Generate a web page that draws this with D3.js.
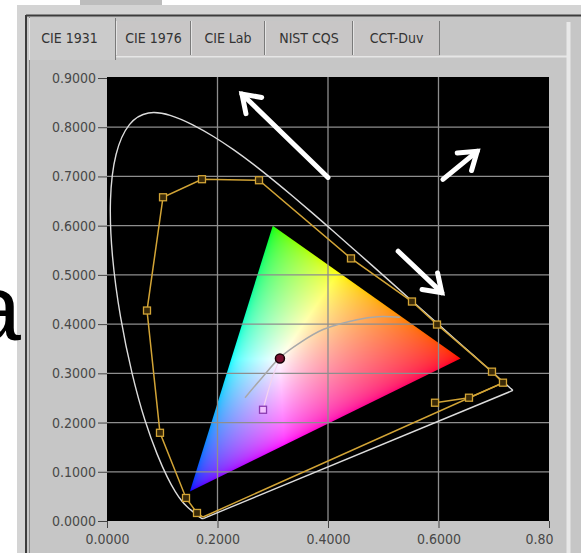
<!DOCTYPE html>
<html>
<head>
<meta charset="utf-8">
<script src="https://cdn.jsdelivr.net/npm/d3@7"></script>
<style>
  body { margin: 0; background: #fff; }
  svg { display: block; }
</style>
</head>
<body>
<svg id="chart" width="581" height="553"></svg>
<script>
// tabs + axis ticks
const tabNames = ["CIE 1931", "CIE 1976", "CIE Lab", "NIST CQS", "CCT-Duv"];
const xTicks = [0, 0.2, 0.4, 0.6, 0.8];
const xTickLabels = ["0.0000", "0.2000", "0.4000", "0.6000", "0.80"];
const yTicks = [0, 0.1, 0.2, 0.3, 0.4, 0.5, 0.6, 0.7, 0.8, 0.9];
const yTickLabels = ["0.0000", "0.1000", "0.2000", "0.3000", "0.4000", "0.5000", "0.6000", "0.7000", "0.8000", "0.9000"];

// CIE 1931 spectral locus (380..700 nm)
const locusX = [0.1741, 0.1738, 0.1733, 0.1726, 0.1714, 0.1689, 0.1644, 0.1566, 0.1440, 0.1355, 0.1241,
  0.1096, 0.0913, 0.0687, 0.0454, 0.0235, 0.0082, 0.0039, 0.0139, 0.0389, 0.0743, 0.1142, 0.1547,
  0.1929, 0.2296, 0.2658, 0.3016, 0.3373, 0.3731, 0.4087, 0.4441, 0.4788, 0.5125, 0.5448, 0.5752,
  0.6029, 0.6270, 0.6482, 0.6658, 0.6801, 0.6915, 0.7006, 0.7079, 0.7140, 0.7190, 0.7230, 0.7260,
  0.7300, 0.7320, 0.7347];
const locusY = [0.0050, 0.0049, 0.0048, 0.0048, 0.0051, 0.0069, 0.0109, 0.0177, 0.0297, 0.0399, 0.0578,
  0.0868, 0.1327, 0.2007, 0.2950, 0.4127, 0.5384, 0.6548, 0.7502, 0.8120, 0.8338, 0.8262, 0.8059,
  0.7816, 0.7543, 0.7243, 0.6923, 0.6589, 0.6245, 0.5896, 0.5547, 0.5202, 0.4866, 0.4544, 0.4242,
  0.3965, 0.3725, 0.3514, 0.3340, 0.3197, 0.3083, 0.2993, 0.2920, 0.2859, 0.2809, 0.2770, 0.2740,
  0.2700, 0.2680, 0.2653];

// measured gamut (orange)
const gamutX = [0.1738, 0.1629, 0.1430, 0.0959, 0.0724, 0.1014, 0.1719, 0.2751, 0.4416, 0.5520, 0.5973, 0.6968, 0.7167];
const gamutY = [0.0081, 0.0163, 0.0468, 0.1792, 0.4276, 0.6577, 0.6944, 0.6923, 0.5335, 0.4459, 0.3991, 0.3034, 0.2810];
const sideX = [0.5937, 0.6552, 0.7120];
const sideY = [0.2403, 0.2505, 0.2780];

// sRGB triangle
const srgbX = [0.64, 0.30, 0.15];
const srgbY = [0.33, 0.60, 0.06];

// blackbody curve
const planckX = [0.2498, 0.2805, 0.3130, 0.3490, 0.3910, 0.4525, 0.4900, 0.5300];
const planckY = [0.2505, 0.2912, 0.3320, 0.3620, 0.3890, 0.4090, 0.4150, 0.4140];

// test point -> reference point
const pointX = [0.3130, 0.2980, 0.2824];
const pointY = [0.3300, 0.2870, 0.2260];

// white annotation arrows, tail -> head
const arrowTail = [[0.400, 0.698], [0.608, 0.694], [0.527, 0.548]];
const arrowHead = [[0.2443, 0.8674], [0.670, 0.751], [0.606, 0.464]];

const svg = d3.select("#chart");

// ---- window frame ----
svg.append("rect").attr("x", 17).attr("y", 5).attr("width", 564).attr("height", 548).attr("fill", "#d4d4d4");
svg.append("rect").attr("x", 80).attr("y", 0).attr("width", 82).attr("height", 5).attr("fill", "#bdbdbd");
svg.append("rect").attr("x", 27).attr("y", 16).attr("width", 554).attr("height", 537).attr("fill", "#c6c6c6");
svg.append("line").attr("x1", 26).attr("x2", 581).attr("y1", 15.5).attr("y2", 15.5)
  .attr("stroke", "#3c3c3c").attr("stroke-width", 2);
svg.append("line").attr("x1", 26).attr("x2", 26).attr("y1", 15).attr("y2", 553)
  .attr("stroke", "#3c3c3c").attr("stroke-width", 2);
svg.append("line").attr("x1", 29.5).attr("x2", 29.5).attr("y1", 17).attr("y2", 553)
  .attr("stroke", "#8a8a8a").attr("stroke-width", 1);

// tabs
const tabEdges = [29, 116, 191, 265, 353, 440];
const tabs = svg.append("g");
tabs.append("line").attr("x1", 116).attr("x2", 568).attr("y1", 56.5).attr("y2", 56.5)
  .attr("stroke", "#e6e6e6").attr("stroke-width", 2);
tabNames.forEach((name, i) => {
  const x0 = tabEdges[i], x1 = tabEdges[i + 1];
  const sel = i === 0;
  tabs.append("rect").attr("x", x0).attr("y", sel ? 18 : 21).attr("width", x1 - x0)
    .attr("height", sel ? 42 : 35).attr("fill", sel ? "#cbcbcb" : "#c8c6c6");
  tabs.append("line").attr("x1", x0 + 0.5).attr("x2", x0 + 0.5).attr("y1", sel ? 18 : 21).attr("y2", sel ? 60 : 55)
    .attr("stroke", "#e4e4e4");
  tabs.append("line").attr("x1", x1 - 0.5).attr("x2", x1 - 0.5).attr("y1", sel ? 18 : 21).attr("y2", sel ? 60 : 55)
    .attr("stroke", "#7a7a7a");
  tabs.append("text").attr("x", (x0 + x1) / 2 + (sel ? -3 : 0)).attr("y", 43)
    .attr("text-anchor", "middle")
    .attr("font-family", "DejaVu Sans Condensed")
    .attr("font-size", 14).attr("fill", "#333")
    .text(name);
});
svg.append("line").attr("x1", 568.5).attr("x2", 568.5).attr("y1", 22).attr("y2", 553)
  .attr("stroke", "#e8e8e8").attr("stroke-width", 4);

// big panel letter (cut by the left edge, as in the source figure)
svg.append("text").attr("x", 21).attr("y", 340).attr("text-anchor", "end")
  .attr("font-family", "Liberation Sans").attr("font-size", 92).attr("fill", "#000")
  .text("a");

// ---- plot ----
const x = d3.scaleLinear().domain([0, 0.8]).range([107, 549]);
const y = d3.scaleLinear().domain([0, 0.9]).range([521, 78]);

svg.append("rect").attr("x", 107).attr("y", 77).attr("width", 442).attr("height", 444).attr("fill", "#000");

// colour-filled sRGB triangle
const tri = srgbX.map((v, i) => [x(v), y(srgbY[i])]);
const bx0 = Math.floor(d3.min(tri, d => d[0])), bx1 = Math.ceil(d3.max(tri, d => d[0]));
const by0 = Math.floor(d3.min(tri, d => d[1])), by1 = Math.ceil(d3.max(tri, d => d[1]));
const cw = bx1 - bx0, ch = by1 - by0;
const canvas = document.createElement("canvas");
canvas.width = cw; canvas.height = ch;
const ctx = canvas.getContext("2d");
const img = ctx.createImageData(cw, ch);
const gam = c => c <= 0.0031308 ? 12.92 * c : 1.055 * Math.pow(c, 1 / 2.4) - 0.055;
for (let j = 0; j < ch; j++) {
  for (let i = 0; i < cw; i++) {
    const cx = x.invert(bx0 + i + 0.5), cy = y.invert(by0 + j + 0.5);
    const X = cx / cy, Y = 1, Z = (1 - cx - cy) / cy;
    let r = 3.2406 * X - 1.5372 * Y - 0.4986 * Z;
    let g = -0.9689 * X + 1.8758 * Y + 0.0415 * Z;
    let b = 0.0557 * X - 0.2040 * Y + 1.0570 * Z;
    r = Math.max(r, 0); g = Math.max(g, 0); b = Math.max(b, 0);
    const m = Math.max(r, g, b) || 1;
    const k = (j * cw + i) * 4;
    img.data[k] = 255 * gam(r / m);
    img.data[k + 1] = 255 * gam(g / m);
    img.data[k + 2] = 255 * gam(b / m);
    img.data[k + 3] = 255;
  }
}
ctx.putImageData(img, 0, 0);
svg.append("clipPath").attr("id", "triClip")
  .append("polygon").attr("points", tri.map(d => d.join(",")).join(" "));
svg.append("image").attr("href", canvas.toDataURL())
  .attr("x", bx0).attr("y", by0).attr("width", cw).attr("height", ch)
  .attr("clip-path", "url(#triClip)");

// grid
const grid = svg.append("g").attr("stroke", "#8e8e8e").attr("stroke-width", 1.3);
xTicks.slice(1, -1).forEach(t => grid.append("line")
  .attr("x1", x(t)).attr("x2", x(t)).attr("y1", 77).attr("y2", 521));
yTicks.slice(1, -1).forEach(t => grid.append("line")
  .attr("x1", 107).attr("x2", 549).attr("y1", y(t)).attr("y2", y(t)));

// axes
const axisFont = "DejaVu Sans Condensed";
const yAxis = svg.append("g").attr("transform", "translate(107,0)")
  .call(d3.axisLeft(y).tickValues(yTicks).tickFormat((d, i) => yTickLabels[i]).tickSize(9).tickPadding(2));
const xAxis = svg.append("g").attr("transform", "translate(0,521)")
  .call(d3.axisBottom(x).tickValues(xTicks).tickFormat((d, i) => xTickLabels[i]).tickSize(7).tickPadding(6));
[xAxis, yAxis].forEach(a => {
  a.select(".domain").remove();
  a.selectAll("line").attr("stroke", "#444");
  a.selectAll("text").attr("font-family", axisFont).attr("font-size", 14).attr("fill", "#484848");
});
xAxis.selectAll("text").filter((d, i) => i === xTicks.length - 1)
  .attr("text-anchor", "end").attr("dx", 4);

// spectral locus (smoothed), closed by the purple line
const line = d3.line().x(d => x(d[0])).y(d => y(d[1]));
const locus = locusX.map((v, i) => [v, locusY[i]]);
svg.append("path").attr("d", d3.line().curve(d3.curveBasis).x(d => x(d[0])).y(d => y(d[1]))(locus))
  .attr("fill", "none").attr("stroke", "#dcdcdc").attr("stroke-width", 1.4);
svg.append("path").attr("d", line([locus[locus.length - 1], locus[0]]))
  .attr("fill", "none").attr("stroke", "#dcdcdc").attr("stroke-width", 1.4);

// gamut polygon
const gamut = gamutX.map((v, i) => [v, gamutY[i]]);
const orange = "#d2a436";
svg.append("path").attr("d", line(gamut.concat([gamut[0]])))
  .attr("fill", "none").attr("stroke", orange).attr("stroke-width", 1.5);
const side = sideX.map((v, i) => [v, sideY[i]]);
svg.append("path").attr("d", line(side))
  .attr("fill", "none").attr("stroke", orange).attr("stroke-width", 1.5);
svg.append("g").selectAll("rect")
  .data(gamut.slice(1).concat(side.slice(0, 2)))
  .join("rect")
  .attr("x", d => x(d[0]) - 3.5).attr("y", d => y(d[1]) - 3.5)
  .attr("width", 7).attr("height", 7)
  .attr("fill", "#3a2a08").attr("stroke", orange).attr("stroke-width", 1.3);

// blackbody curve
const planck = planckX.map((v, i) => [v, planckY[i]]);
svg.append("path").attr("d", d3.line().curve(d3.curveCatmullRom).x(d => x(d[0])).y(d => y(d[1]))(planck))
  .attr("fill", "none").attr("stroke", "#a8a8a8").attr("stroke-width", 1.5);

// link from test point to reference
const pts = pointX.map((v, i) => [v, pointY[i]]);
svg.append("path").attr("d", d3.line().curve(d3.curveCatmullRom).x(d => x(d[0])).y(d => y(d[1]))(pts))
  .attr("fill", "none").attr("stroke", "#f4d4f0").attr("stroke-width", 1.2);
svg.append("rect").attr("x", x(pts[2][0]) - 3.5).attr("y", y(pts[2][1]) - 3.5)
  .attr("width", 7).attr("height", 7).attr("fill", "#f0c0ff").attr("stroke", "#8a3ab0").attr("stroke-width", 1.3);
svg.append("circle").attr("cx", x(pts[0][0])).attr("cy", y(pts[0][1])).attr("r", 4.5)
  .attr("fill", "#7a1030").attr("stroke", "#1a0008").attr("stroke-width", 1.5);

// annotation arrows
const arrows = svg.append("g").attr("stroke", "#fff").attr("stroke-width", 5)
  .attr("stroke-linecap", "round").attr("fill", "none");
arrowTail.forEach((t, i) => {
  const h = arrowHead[i];
  const x0 = x(t[0]), y0 = y(t[1]), x1 = x(h[0]), y1 = y(h[1]);
  const ang = Math.atan2(y1 - y0, x1 - x0);
  const len = 20, spread = 0.6;
  arrows.append("line").attr("x1", x0).attr("y1", y0).attr("x2", x1).attr("y2", y1);
  arrows.append("polyline").attr("points", [
    [x1 - len * Math.cos(ang - spread), y1 - len * Math.sin(ang - spread)],
    [x1, y1],
    [x1 - len * Math.cos(ang + spread), y1 - len * Math.sin(ang + spread)]
  ].map(p => p.join(",")).join(" ")).attr("stroke-linejoin", "miter");
});
</script>
</body>
</html>
